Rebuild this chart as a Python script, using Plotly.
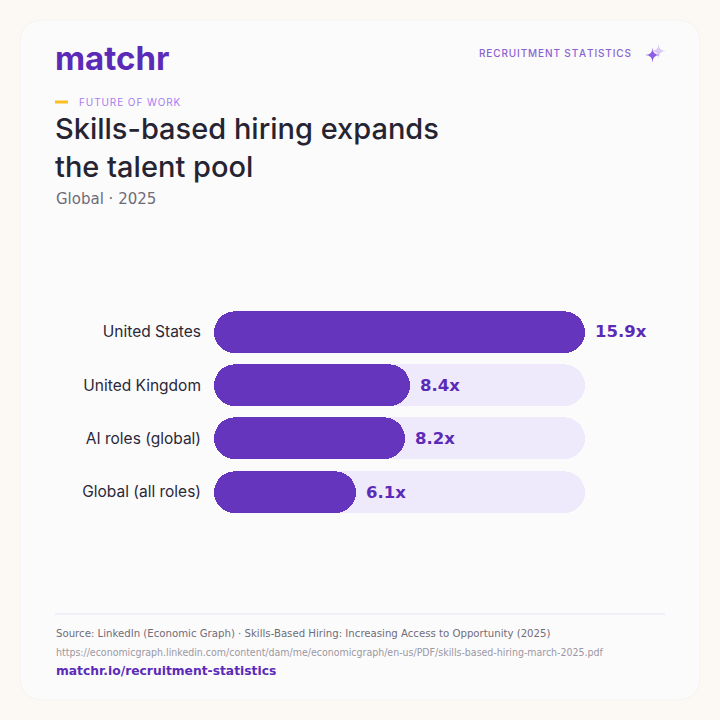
import plotly.graph_objects as go

categories = ["United States", "United Kingdom", "AI roles (global)", "Global (all roles)"]
values = [15.9, 8.4, 8.2, 6.1]
value_labels = ["15.9x", "8.4x", "8.2x", "6.1x"]

W = H = 720
def px(x):
    return x / W
def py(y):
    return 1 - y / H

vmax = max(values)
fig = go.Figure()

def pill(vals, color):
    fig.add_trace(go.Bar(
        y=categories, x=vals, base=[0] * len(vals), orientation="h",
        marker=dict(color=color, cornerradius="50%", line=dict(width=0)),
        width=0.79, hoverinfo="skip", showlegend=False,
    ))

pill([vmax] * len(values), "#efe9fc")
pill(values, "#6536bd")

annotations = []
for c, v, t in zip(categories, values, value_labels):
    annotations.append(dict(
        xref="x", yref="y", x=v, y=c, text=f"<b>{t}</b>", showarrow=False,
        xanchor="left", xshift=8,
        font=dict(family="DejaVu Sans", size=16.5, color="#5b2bb8"),
    ))

def spaced(s, sp="\u200a"):
    return sp.join(list(s))

annotations += [
    dict(xref="paper", yref="paper", x=px(53), y=py(58), text="matchr",
         showarrow=False, xanchor="left", yanchor="middle",
         font=dict(family="Inter", size=33, weight=700, color="#5b2bb8")),
    dict(xref="paper", yref="paper", x=px(633), y=py(53), text=spaced("RECRUITMENT STATISTICS"),
         showarrow=False, xanchor="right", yanchor="middle",
         font=dict(family="Inter", size=10, weight=500, color="#8a62d2")),
    dict(xref="paper", yref="paper", x=px(77), y=py(102), text=spaced("FUTURE OF WORK"),
         showarrow=False, xanchor="left", yanchor="middle",
         font=dict(family="Inter", size=10, color="#a77bf0")),
    dict(xref="paper", yref="paper", x=px(53), y=py(148),
         text="Skills-based hiring expands<br>the talent pool",
         showarrow=False, xanchor="left", yanchor="middle", align="left",
         font=dict(family="Inter", size=29, weight=500, color="#262433")),
    dict(xref="paper", yref="paper", x=px(54), y=py(199), text="Global · 2025",
         showarrow=False, xanchor="left", yanchor="middle",
         font=dict(family="DejaVu Sans", size=15, color="#6e6c78")),
    dict(xref="paper", yref="paper", x=px(54), y=py(633),
         text="Source: LinkedIn (Economic Graph) · Skills-Based Hiring: Increasing Access to Opportunity (2025)",
         showarrow=False, xanchor="left", yanchor="middle",
         font=dict(family="DejaVu Sans Condensed", size=11.3, color="#6f6d78")),
    dict(xref="paper", yref="paper", x=px(54), y=py(652),
         text="https://economicgraph.linkedin.com/content/dam/me/economicgraph/en-us/PDF/skills-based-hiring-march-2025.pdf",
         showarrow=False, xanchor="left", yanchor="middle",
         font=dict(family="DejaVu Sans Condensed", size=10.5, color="#9a98a2")),
    dict(xref="paper", yref="paper", x=px(54), y=py(671), text="<b>matchr.io/recruitment-statistics</b>",
         showarrow=False, xanchor="left", yanchor="middle",
         font=dict(family="DejaVu Sans", size=12.3, color="#5b2bb8")),
]

# rounded card path
x0, y0, x1, y1, r = 20, 20, 700, 700, 24
def P(x, y):
    return f"{px(x)},{py(y)}"
card = (f"M {P(x0+r,y0)} L {P(x1-r,y0)} Q {P(x1,y0)} {P(x1,y0+r)} L {P(x1,y1-r)} "
        f"Q {P(x1,y1)} {P(x1-r,y1)} L {P(x0+r,y1)} Q {P(x0,y1)} {P(x0,y1-r)} "
        f"L {P(x0,y0+r)} Q {P(x0,y0)} {P(x0+r,y0)} Z")

def sparkle(cx, cy, s):
    return (f"M {P(cx, cy - s)} Q {P(cx, cy)} {P(cx + s, cy)} Q {P(cx, cy)} {P(cx, cy + s)} "
            f"Q {P(cx, cy)} {P(cx - s, cy)} Q {P(cx, cy)} {P(cx, cy - s)} Z")

shapes = [
    dict(type="path", xref="paper", yref="paper", path=card, fillcolor="#fcfbfc",
         line=dict(color="#f6f2f2", width=1), layer="below"),
    dict(type="path", xref="paper", yref="paper", path=sparkle(658.5, 51, 7.5),
         fillcolor="#d8cbf6", line=dict(width=0)),
    dict(type="path", xref="paper", yref="paper", path=sparkle(652.5, 55, 7.5),
         fillcolor="#8f5fe3", line=dict(width=0)),
    dict(type="line", xref="paper", yref="paper", x0=px(55), x1=px(68), y0=py(102), y1=py(102),
         line=dict(color="#fbbf24", width=3)),
    dict(type="line", xref="paper", yref="paper", x0=px(55), x1=px(665), y0=py(614), y1=py(614),
         line=dict(color="#e6e2f3", width=1)),
]

fig.update_layout(
    width=W, height=H,
    margin=dict(l=0, r=0, t=0, b=0),
    paper_bgcolor="#fcf9f5", plot_bgcolor="rgba(0,0,0,0)",
    barmode="overlay", bargap=0,
    xaxis=dict(domain=[px(214), px(585)], range=[0, vmax], visible=False, fixedrange=True),
    yaxis=dict(domain=[py(518.7), py(305.3)], autorange="reversed", showgrid=False,
               zeroline=False, showline=False, ticks="", ticklabelstandoff=12,
               tickfont=dict(family="Inter", size=15.5, color="#2a2838"), fixedrange=True),
    annotations=annotations, shapes=shapes,
)

fig.write_html("out.html")
